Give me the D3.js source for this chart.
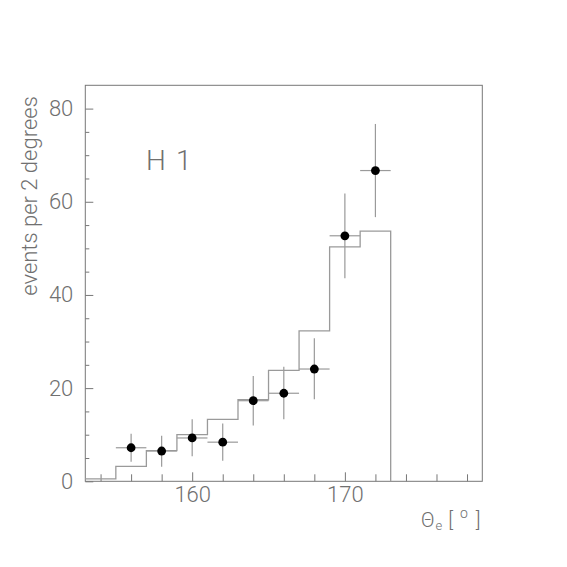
<!DOCTYPE html>
<html>
<head>
<meta charset="utf-8">
<script src="https://cdn.jsdelivr.net/npm/d3@7"></script>
<style>
html,body{margin:0;padding:0;background:#fff;}
svg{display:block;}
text{font-family:Roboto,"Liberation Sans",Arial,sans-serif;font-weight:300;fill:#707070;}
</style>
</head>
<body>
<svg id="chart" width="567" height="567"></svg>
<script>
// ---- data ----
const histEdges = [153, 155, 157, 159, 161, 163, 165, 167, 169, 171];
const histValues = [0.5, 3.2, 6.6, 10.0, 13.3, 17.5, 23.8, 32.3, 50.3, 53.7];
const binWidth = 2;

const pointX = [156, 158, 160, 162, 164, 166, 168, 170, 172];
const pointY = [7.2, 6.5, 9.3, 8.4, 17.3, 18.9, 24.1, 52.7, 66.7];
const pointErrLow = [3.0, 3.4, 3.9, 4.0, 5.3, 5.6, 6.5, 9.1, 10.0];
const pointErrHigh = [3.0, 3.3, 4.0, 4.0, 5.3, 5.7, 6.6, 9.1, 10.0];

const xMajorTicks = [160, 170];
const xMinorTicks = [154, 156, 158, 162, 164, 166, 168, 172, 174, 176, 178];
const yMajorTicks = [0, 20, 40, 60, 80];
const yMinorTicks = [5, 10, 15, 25, 30, 35, 45, 50, 55, 65, 70, 75];

const xDomain = [153, 179];
const yDomain = [0, 85];

const yLabel = "events per 2 degrees";
const histLabel = ["H", "1"];

// ---- layout ----
const L = 85.3, R = 482.3, T = 85.3, B = 481.3;
const svg = d3.select("#chart");
const x = d3.scaleLinear().domain(xDomain).range([L, R]);
const y = d3.scaleLinear().domain(yDomain).range([B, T]);

const axisColor = "#777";
const histColor = "#9a9a9a";
const textColor = "#707070";

// minor ticks
svg.append("g").attr("transform", `translate(0,${B})`)
  .call(d3.axisBottom(x).tickValues(xMinorTicks).tickSize(-7).tickFormat(""))
  .call(g => g.select(".domain").remove())
  .call(g => g.selectAll("line").attr("stroke", axisColor));
svg.append("g").attr("transform", `translate(${L},0)`)
  .call(d3.axisLeft(y).tickValues(yMinorTicks).tickSize(-4).tickFormat(""))
  .call(g => g.select(".domain").remove())
  .call(g => g.selectAll("line").attr("stroke", axisColor));

// major ticks
svg.append("g").attr("transform", `translate(0,${B})`)
  .call(d3.axisBottom(x).tickValues(xMajorTicks).tickSize(-9).tickPadding(5).tickFormat(d3.format("d")))
  .call(g => g.select(".domain").remove())
  .call(g => g.selectAll("line").attr("stroke", axisColor))
  .call(g => g.selectAll("text").attr("font-size", 22).attr("fill", textColor)
      .style("font-family", 'Roboto,"Liberation Sans",Arial,sans-serif').style("font-weight", 300));
svg.append("g").attr("transform", `translate(${L},0)`)
  .call(d3.axisLeft(y).tickValues(yMajorTicks).tickSize(-8).tickPadding(12).tickFormat(d3.format("d")))
  .call(g => g.select(".domain").remove())
  .call(g => g.selectAll("line").attr("stroke", axisColor))
  .call(g => g.selectAll("text").attr("font-size", 22).attr("fill", textColor)
      .style("font-family", 'Roboto,"Liberation Sans",Arial,sans-serif').style("font-weight", 300));

// frame
svg.append("rect").attr("x", L).attr("y", T).attr("width", R - L).attr("height", B - T)
  .attr("fill", "none").attr("stroke", axisColor).attr("stroke-width", 1);

// histogram
const histPts = histEdges.map((e, i) => [e, histValues[i]]);
histPts.push([histEdges[histEdges.length - 1] + binWidth, 0]);
const line = d3.line().x(d => x(d[0])).y(d => y(d[1])).curve(d3.curveStepAfter);
svg.append("path").attr("d", line(histPts))
  .attr("fill", "none").attr("stroke", histColor).attr("stroke-width", 1.3);

// error bars
const pts = pointX.map((px, i) => ({x: px, y: pointY[i], lo: pointErrLow[i], hi: pointErrHigh[i]}));
const eb = svg.append("g").attr("stroke", histColor).attr("stroke-width", 1.2);
eb.selectAll("line.v").data(pts).join("line").attr("class", "v")
  .attr("x1", d => x(d.x)).attr("x2", d => x(d.x))
  .attr("y1", d => y(d.y - d.lo)).attr("y2", d => y(d.y + d.hi));
eb.selectAll("line.h").data(pts).join("line").attr("class", "h")
  .attr("x1", d => x(d.x - binWidth / 2)).attr("x2", d => x(d.x + binWidth / 2))
  .attr("y1", d => y(d.y)).attr("y2", d => y(d.y));
svg.append("g").selectAll("circle").data(pts).join("circle")
  .attr("cx", d => x(d.x)).attr("cy", d => y(d.y)).attr("r", 4.4).attr("fill", "#000");

// labels
svg.append("text").attr("transform", "translate(37,196) rotate(-90)")
  .attr("text-anchor", "middle").attr("font-size", 22).text(yLabel);

const hl = svg.append("text").attr("y", 170).attr("font-size", 28);
hl.append("tspan").attr("x", 146).text(histLabel[0]);
hl.append("tspan").attr("x", 176).text(histLabel[1]);

const xl = svg.append("text").attr("x", 421).attr("y", 527).attr("font-size", 20);
xl.append("tspan").text("\u0398");
xl.append("tspan").attr("font-size", 13).attr("dy", 3).attr("dx", 1).text("e");
xl.append("tspan").attr("dy", -3).attr("dx", 6).text("[");
xl.append("tspan").attr("font-size", 14).attr("dy", -9).attr("dx", 7).text("o");
xl.append("tspan").attr("dy", 9).attr("dx", 8).text("]");
</script>
</body>
</html>
